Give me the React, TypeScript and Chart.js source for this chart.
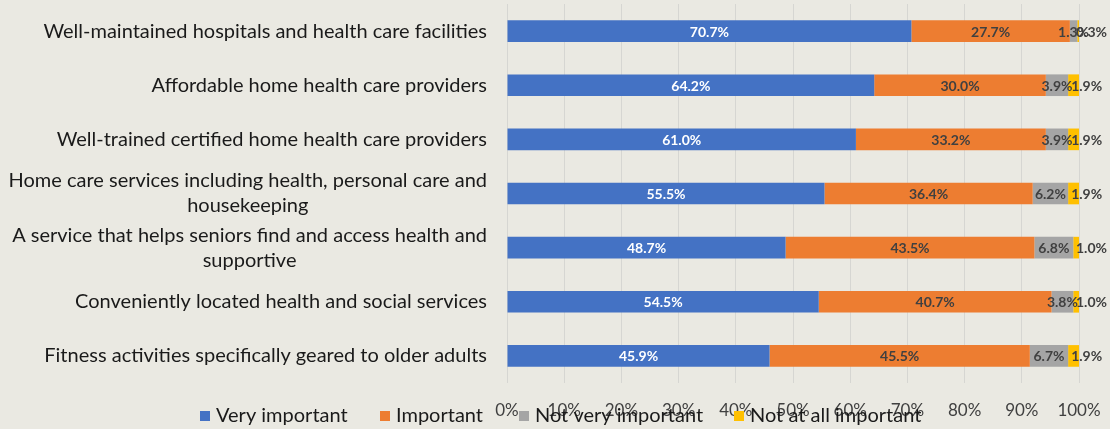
import React, { useEffect, useRef } from "react";
import { Chart, registerables } from "chart.js";

Chart.register(...registerables);

const categories: string[][] = [
  ["Well-maintained hospitals and health care facilities"],
  ["Affordable home health care providers"],
  ["Well-trained certified home health care providers"],
  ["Home care services including health, personal care and", "housekeeping"],
  ["A service that helps seniors find and access health and", "supportive"],
  ["Conveniently located health and social services"],
  ["Fitness activities specifically geared to older adults"],
];

const veryImportant = [70.7, 64.2, 61.0, 55.5, 48.7, 54.5, 45.9];
const important = [27.7, 30.0, 33.2, 36.4, 43.5, 40.7, 45.5];
const notVeryImportant = [1.3, 3.9, 3.9, 6.2, 6.8, 3.8, 6.7];
const notAtAllImportant = [0.3, 1.9, 1.9, 1.9, 1.0, 1.0, 1.9];

const seriesNames = ["Very important", "Important", "Not very important", "Not at all important"];
const seriesColors = ["#4472C4", "#ED7D31", "#A5A5A5", "#FFC000"];
const xTicks = [0, 10, 20, 30, 40, 50, 60, 70, 80, 90, 100];

const BG = "#EAE9E2";
const FONT = "Lato, 'Open Sans', sans-serif";

export default function App() {
  const ref = useRef<HTMLCanvasElement>(null);

  useEffect(() => {
    if (!ref.current) return;

    const bgPlugin = {
      id: "bg",
      beforeDraw(chart: any) {
        const ctx = chart.ctx;
        ctx.save();
        ctx.fillStyle = BG;
        ctx.fillRect(0, 0, chart.width, chart.height);
        ctx.restore();
      },
    };

    const yLabelPlugin = {
      id: "ylabels",
      afterDraw(chart: any) {
        const ctx = chart.ctx;
        const y = chart.scales.y;
        ctx.save();
        ctx.font = `20px ${FONT}`;
        ctx.fillStyle = "#1a1a1a";
        ctx.textBaseline = "middle";
        ctx.textAlign = "center";
        const right = chart.chartArea.left - 20;
        const lh = 25;
        categories.forEach((lines, i) => {
          const cy = y.getPixelForValue(i);
          const w = Math.max(...lines.map((l) => ctx.measureText(l).width));
          const cx = right - w / 2;
          const startY = cy - ((lines.length - 1) * lh) / 2;
          lines.forEach((l, j) => ctx.fillText(l, cx, startY + j * lh));
        });
        ctx.restore();
      },
    };

    const dataLabelPlugin = {
      id: "dlabels",
      afterDatasetsDraw(chart: any) {
        const ctx = chart.ctx;
        ctx.save();
        ctx.font = `bold 14px ${FONT}`;
        ctx.textBaseline = "middle";
        chart.data.datasets.forEach((ds: any, di: number) => {
          const meta = chart.getDatasetMeta(di);
          meta.data.forEach((bar: any, i: number) => {
            const v = ds.data[i];
            const txt = v.toFixed(1) + "%";
            const start = bar.base;
            const end = bar.x;
            ctx.fillStyle = di === 0 ? "#FFFFFF" : "#404040";
            if (di === 3) {
              ctx.textAlign = "left";
              ctx.fillText(txt, Math.min(start + 3, end - 3), bar.y + 1);
            } else {
              ctx.textAlign = "center";
              ctx.fillText(txt, (start + end) / 2, bar.y + 1);
            }
          });
        });
        ctx.restore();
      },
    };

    const legendPlugin = {
      id: "customLegend",
      afterDraw(chart: any) {
        const ctx = chart.ctx;
        ctx.save();
        ctx.font = `20px ${FONT}`;
        ctx.textBaseline = "middle";
        ctx.textAlign = "left";
        const ly = 416;
        const xs = [200, 380, 519, 734];
        seriesNames.forEach((n, i) => {
          ctx.fillStyle = seriesColors[i];
          ctx.fillRect(xs[i], ly - 5, 10, 10);
          ctx.fillStyle = "#1a1a1a";
          ctx.fillText(n, xs[i] + 16, ly);
        });
        ctx.restore();
      },
    };

    const mk = (i: number, data: number[]) => ({
      label: seriesNames[i],
      data,
      backgroundColor: seriesColors[i],
      borderWidth: 0,
      categoryPercentage: 1,
      barPercentage: 0.4,
    });

    const chart = new Chart(ref.current, {
      type: "bar",
      data: {
        labels: categories.map((c) => c.join(" ")),
        datasets: [
          mk(0, veryImportant),
          mk(1, important),
          mk(2, notVeryImportant),
          mk(3, notAtAllImportant),
        ],
      },
      options: {
        indexAxis: "y",
        animation: false,
        responsive: false,
        maintainAspectRatio: false,
        layout: { padding: { top: 4, right: 31, bottom: 0, left: 0 } },
        plugins: {
          legend: { display: false },
          tooltip: { enabled: false },
        },
        scales: {
          x: {
            stacked: true,
            min: 0,
            max: 100,
            afterFit: (s: any) => {
              s.height = 46;
              s.paddingLeft = 0;
              s.paddingRight = 0;
            },
            afterBuildTicks: (s: any) => {
              s.ticks = xTicks.map((v) => ({ value: v }));
            },
            ticks: {
              callback: (v: any) => v + "%",
              font: { family: FONT, size: 17 },
              color: "#404040",
              padding: 17,
              maxRotation: 0,
            },
            grid: { color: "#D6D6D2", drawTicks: false, tickLength: 0 },
            border: { display: false },
          },
          y: {
            stacked: true,
            afterFit: (s: any) => {
              s.width = 507;
            },
            ticks: { display: false },
            grid: { display: false },
            border: { display: false },
          },
        },
      },
      plugins: [bgPlugin, yLabelPlugin, dataLabelPlugin, legendPlugin],
    } as any);

    return () => chart.destroy();
  }, []);

  return (
    <div style={{ position: "absolute", left: 0, top: 0, width: 1110, height: 429 }}>
      <canvas ref={ref} width={1110} height={429} style={{ display: "block" }} />
    </div>
  );
}
